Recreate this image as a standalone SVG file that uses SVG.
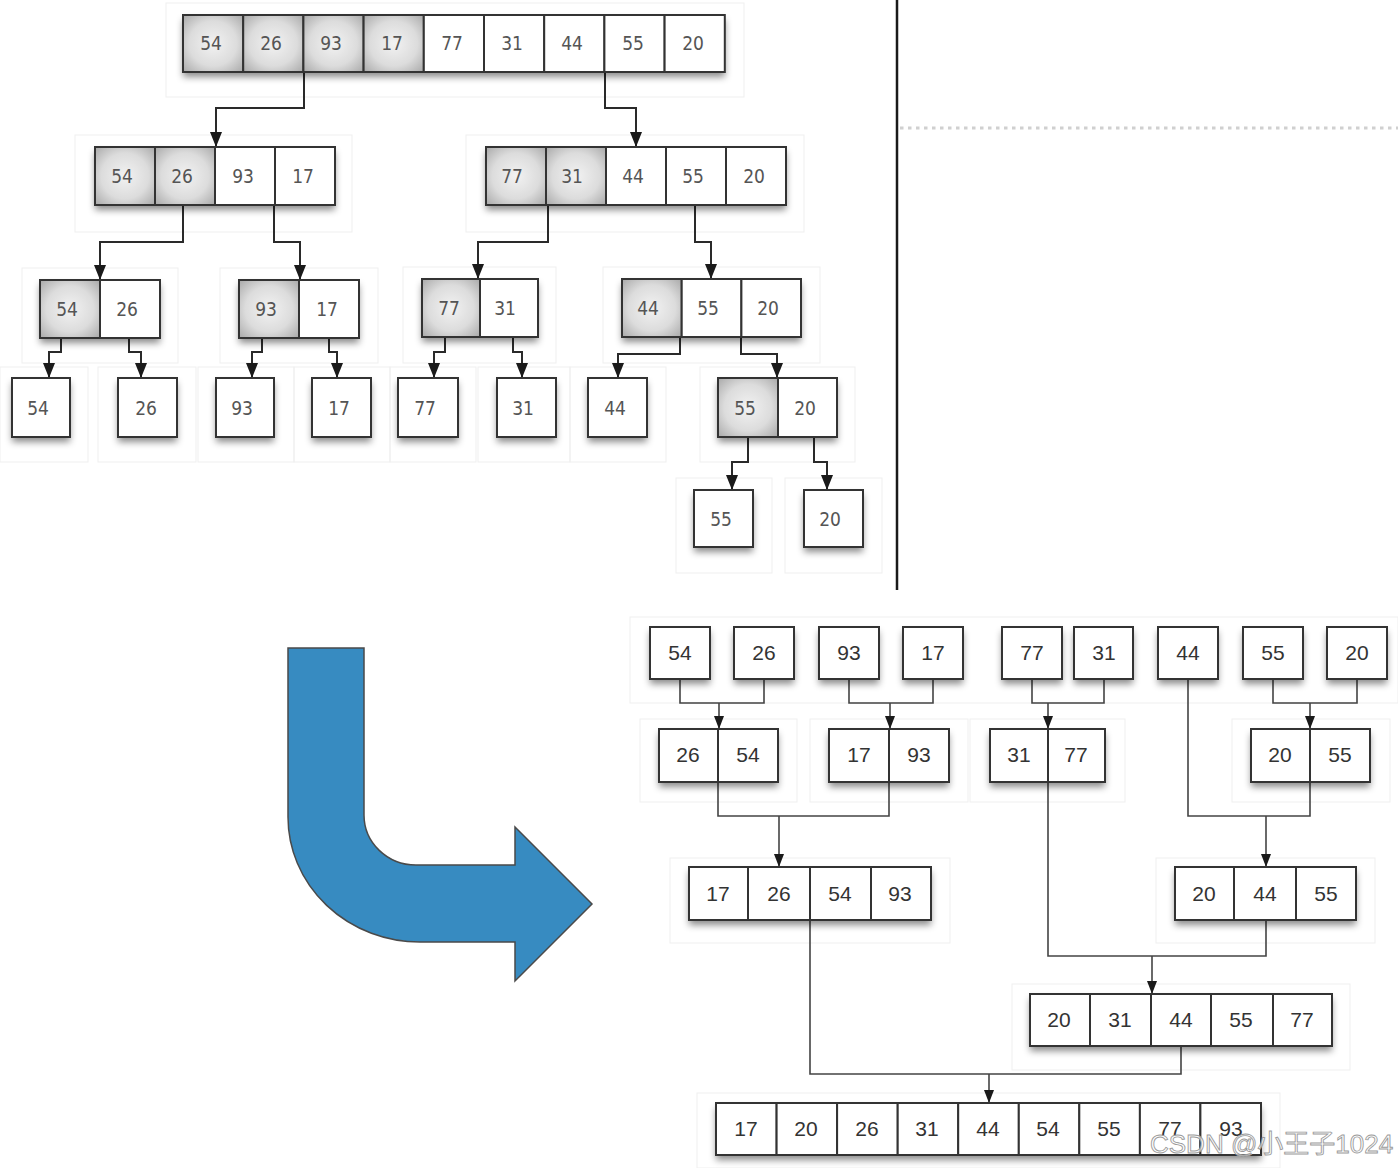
<svg xmlns="http://www.w3.org/2000/svg" width="1398" height="1168" viewBox="0 0 1398 1168">
<defs>
<radialGradient id="gr" cx="50%" cy="50%" r="72%">
<stop offset="0" stop-color="#f2f2f2"/>
<stop offset="0.55" stop-color="#dcdcdc"/>
<stop offset="1" stop-color="#a6a6a6"/>
</radialGradient>
<filter id="sh" x="-20%" y="-30%" width="140%" height="170%">
<feDropShadow dx="0" dy="5" stdDeviation="3.5" flood-color="#000" flood-opacity="0.45"/>
</filter>
<marker id="ah" markerUnits="userSpaceOnUse" markerWidth="15" markerHeight="12" viewBox="0 0 15 12" refX="15" refY="6" orient="auto"><path d="M0,0 L15,6 L0,12 z" fill="#1a1a1a"/></marker>
<marker id="ah2" markerUnits="userSpaceOnUse" markerWidth="13" markerHeight="10" viewBox="0 0 13 10" refX="13" refY="5" orient="auto"><path d="M0,0 L13,5 L0,10 z" fill="#1a1a1a"/></marker>
<style>
.fr{fill:none;stroke:#efefef;stroke-width:1}
.bg{fill:#fff;filter:url(#sh)}
.w{fill:#fff;stroke:#333;stroke-width:2}
.s{fill:url(#gr);stroke:#333;stroke-width:2}
.t{font-family:"DejaVu Sans Condensed","DejaVu Sans",sans-serif;font-stretch:condensed;font-size:19px;fill:#555;text-anchor:middle}
.b{font-family:"Liberation Sans",Arial,sans-serif;font-size:21px;fill:#333;text-anchor:middle}
.c1{fill:none;stroke:#2a2a2a;stroke-width:2;marker-end:url(#ah)}
.c2{fill:none;stroke:#444;stroke-width:1.6}
.c2a{fill:none;stroke:#444;stroke-width:1.6;marker-end:url(#ah2)}
</style>
</defs>
<rect width="1398" height="1168" fill="#fff"/>

<g id="frames">
<rect class="fr" x="166" y="3" width="578" height="94"/>
<rect class="fr" x="75" y="135" width="277" height="97"/>
<rect class="fr" x="466" y="135" width="338" height="97"/>
<rect class="fr" x="22" y="268" width="156" height="95"/>
<rect class="fr" x="220" y="268" width="158" height="95"/>
<rect class="fr" x="403" y="267" width="153" height="96"/>
<rect class="fr" x="603" y="267" width="217" height="96"/>
<rect class="fr" x="0" y="367" width="88" height="95"/>
<rect class="fr" x="98" y="367" width="98" height="95"/>
<rect class="fr" x="198" y="367" width="96" height="95"/>
<rect class="fr" x="294" y="367" width="96" height="95"/>
<rect class="fr" x="390" y="367" width="86" height="95"/>
<rect class="fr" x="478" y="367" width="92" height="95"/>
<rect class="fr" x="570" y="367" width="96" height="95"/>
<rect class="fr" x="700" y="367" width="155" height="95"/>
<rect class="fr" x="676" y="478" width="96" height="95"/>
<rect class="fr" x="785" y="478" width="97" height="95"/>
<rect class="fr" x="630" y="617" width="768" height="86"/>
<rect class="fr" x="640" y="719" width="157" height="83"/>
<rect class="fr" x="810" y="719" width="158" height="83"/>
<rect class="fr" x="970" y="719" width="155" height="83"/>
<rect class="fr" x="1232" y="719" width="158" height="83"/>
<rect class="fr" x="670" y="858" width="280" height="85"/>
<rect class="fr" x="1156" y="858" width="219" height="85"/>
<rect class="fr" x="1012" y="984" width="338" height="86"/>
<rect class="fr" x="697" y="1093" width="583" height="75"/>
</g>

<g id="divider">
<line x1="897" y1="0" x2="897" y2="590" stroke="#1a1a1a" stroke-width="2.5"/>
<line x1="900" y1="128" x2="1398" y2="128" stroke="#d0d0d0" stroke-width="3" stroke-dasharray="3.5 4.5"/>
</g>

<g id="connectors">
<path class="c1" d="M304,72 V108 H216 V147"/>
<path class="c1" d="M605,72 V108 H636 V147"/>
<path class="c1" d="M183,205 V242 H100 V280"/>
<path class="c1" d="M274,205 V242 H300 V280"/>
<path class="c1" d="M548,205 V242 H478 V279"/>
<path class="c1" d="M695,205 V242 H711 V279"/>
<path class="c1" d="M61,338 V352 H49 V378"/>
<path class="c1" d="M129,338 V352 H141 V378"/>
<path class="c1" d="M262,338 V352 H252 V378"/>
<path class="c1" d="M329,338 V352 H337 V378"/>
<path class="c1" d="M445,337 V352 H434 V378"/>
<path class="c1" d="M513,337 V352 H522 V378"/>
<path class="c1" d="M680,337 V354 H618 V378"/>
<path class="c1" d="M741,337 V354 H777 V378"/>
<path class="c1" d="M748,437 V462 H732 V490"/>
<path class="c1" d="M814,437 V462 H827 V490"/>

<path class="c2" d="M680,679 V703 H764 V679"/>
<path class="c2a" d="M719,703 V729"/>
<path class="c2" d="M849,679 V703 H933 V679"/>
<path class="c2a" d="M890,703 V729"/>
<path class="c2" d="M1032,679 V703 H1104 V679"/>
<path class="c2a" d="M1048,703 V729"/>
<path class="c2" d="M1273,679 V703 H1357 V679"/>
<path class="c2a" d="M1310,703 V729"/>
<path class="c2" d="M718,782 V816 H889 V782"/>
<path class="c2a" d="M779,816 V867"/>
<path class="c2" d="M1188,679 V816 H1310 V782"/>
<path class="c2a" d="M1266,816 V867"/>
<path class="c2" d="M1048,782 V956 H1266 V920"/>
<path class="c2a" d="M1152,956 V994"/>
<path class="c2" d="M810,920 V1074 H1181 V1046"/>
<path class="c2a" d="M989,1074 V1103"/>
</g>

<g id="n-l1">
<rect class="bg" x="183" y="15" width="542" height="57"/>
<rect class="s" x="183" y="15" width="60.2" height="57"/>
<rect class="s" x="243.2" y="15" width="60.2" height="57"/>
<rect class="s" x="303.4" y="15" width="60.2" height="57"/>
<rect class="s" x="363.6" y="15" width="60.2" height="57"/>
<rect class="w" x="423.8" y="15" width="60.2" height="57"/>
<rect class="w" x="484" y="15" width="60.2" height="57"/>
<rect class="w" x="544.2" y="15" width="60.2" height="57"/>
<rect class="w" x="604.4" y="15" width="60.2" height="57"/>
<rect class="w" x="664.6" y="15" width="60.2" height="57"/>
<text class="t" x="211" y="50">54</text><text class="t" x="271" y="50">26</text><text class="t" x="331" y="50">93</text><text class="t" x="392" y="50">17</text><text class="t" x="452" y="50">77</text><text class="t" x="512" y="50">31</text><text class="t" x="572" y="50">44</text><text class="t" x="633" y="50">55</text><text class="t" x="693" y="50">20</text>
</g>

<g id="n-l2a">
<rect class="bg" x="95" y="147" width="240" height="58"/>
<rect class="s" x="95" y="147" width="60" height="58"/>
<rect class="s" x="155" y="147" width="60" height="58"/>
<rect class="w" x="215" y="147" width="60" height="58"/>
<rect class="w" x="275" y="147" width="60" height="58"/>
<text class="t" x="122" y="183">54</text><text class="t" x="182" y="183">26</text><text class="t" x="243" y="183">93</text><text class="t" x="303" y="183">17</text>
</g>

<g id="n-l2b">
<rect class="bg" x="486" y="147" width="300" height="58"/>
<rect class="s" x="486" y="147" width="60" height="58"/>
<rect class="s" x="546" y="147" width="60" height="58"/>
<rect class="w" x="606" y="147" width="60" height="58"/>
<rect class="w" x="666" y="147" width="60" height="58"/>
<rect class="w" x="726" y="147" width="60" height="58"/>
<text class="t" x="512" y="183">77</text><text class="t" x="572" y="183">31</text><text class="t" x="633" y="183">44</text><text class="t" x="693" y="183">55</text><text class="t" x="754" y="183">20</text>
</g>

<g id="n-l3a">
<rect class="bg" x="40" y="280" width="120" height="58"/>
<rect class="s" x="40" y="280" width="60" height="58"/>
<rect class="w" x="100" y="280" width="60" height="58"/>
<text class="t" x="67" y="316">54</text><text class="t" x="127" y="316">26</text>
</g>
<g id="n-l3b">
<rect class="bg" x="239" y="280" width="120" height="58"/>
<rect class="s" x="239" y="280" width="60" height="58"/>
<rect class="w" x="299" y="280" width="60" height="58"/>
<text class="t" x="266" y="316">93</text><text class="t" x="327" y="316">17</text>
</g>
<g id="n-l3c">
<rect class="bg" x="422" y="279" width="116" height="58"/>
<rect class="s" x="422" y="279" width="58" height="58"/>
<rect class="w" x="480" y="279" width="58" height="58"/>
<text class="t" x="449" y="315">77</text><text class="t" x="505" y="315">31</text>
</g>
<g id="n-l3d">
<rect class="bg" x="622" y="279" width="179" height="58"/>
<rect class="s" x="622" y="279" width="59.7" height="58"/>
<rect class="w" x="681.7" y="279" width="59.7" height="58"/>
<rect class="w" x="741.4" y="279" width="59.6" height="58"/>
<text class="t" x="648" y="315">44</text><text class="t" x="708" y="315">55</text><text class="t" x="768" y="315">20</text>
</g>

<g id="n-l4-54"><rect class="bg" x="12" y="378" width="58" height="59"/><rect class="w" x="12" y="378" width="58" height="59"/><text class="t" x="38" y="415">54</text></g>
<g id="n-l4-26"><rect class="bg" x="118" y="378" width="59" height="59"/><rect class="w" x="118" y="378" width="59" height="59"/><text class="t" x="146" y="415">26</text></g>
<g id="n-l4-93"><rect class="bg" x="216" y="378" width="58" height="59"/><rect class="w" x="216" y="378" width="58" height="59"/><text class="t" x="242" y="415">93</text></g>
<g id="n-l4-17"><rect class="bg" x="312" y="378" width="59" height="59"/><rect class="w" x="312" y="378" width="59" height="59"/><text class="t" x="339" y="415">17</text></g>
<g id="n-l4-77"><rect class="bg" x="398" y="378" width="60" height="59"/><rect class="w" x="398" y="378" width="60" height="59"/><text class="t" x="425" y="415">77</text></g>
<g id="n-l4-31"><rect class="bg" x="497" y="378" width="59" height="59"/><rect class="w" x="497" y="378" width="59" height="59"/><text class="t" x="523" y="415">31</text></g>
<g id="n-l4-44"><rect class="bg" x="588" y="378" width="59" height="59"/><rect class="w" x="588" y="378" width="59" height="59"/><text class="t" x="615" y="415">44</text></g>
<g id="n-l4-5520">
<rect class="bg" x="718" y="378" width="119" height="59"/>
<rect class="s" x="718" y="378" width="60" height="59"/>
<rect class="w" x="778" y="378" width="59" height="59"/>
<text class="t" x="745" y="415">55</text><text class="t" x="805" y="415">20</text>
</g>
<g id="n-l5-55"><rect class="bg" x="694" y="490" width="59" height="57"/><rect class="w" x="694" y="490" width="59" height="57"/><text class="t" x="721" y="526">55</text></g>
<g id="n-l5-20"><rect class="bg" x="804" y="490" width="59" height="57"/><rect class="w" x="804" y="490" width="59" height="57"/><text class="t" x="830" y="526">20</text></g>

<g id="big-arrow">
<path d="M288,648 L364,648 L364,815 A52,50 0 0 0 416,865 L515,865 L515,827 L592,904 L515,981 L515,942 L420,942 A132,125 0 0 1 288,817 Z" fill="#378bc1" stroke="#4a4a4a" stroke-width="1.5" stroke-linejoin="miter"/>
</g>

<g id="m-a-54"><rect class="bg" x="650" y="627" width="60" height="52"/><rect class="w" x="650" y="627" width="60" height="52"/><text class="b" x="680" y="660">54</text></g>
<g id="m-a-26"><rect class="bg" x="734" y="627" width="60" height="52"/><rect class="w" x="734" y="627" width="60" height="52"/><text class="b" x="764" y="660">26</text></g>
<g id="m-a-93"><rect class="bg" x="819" y="627" width="60" height="52"/><rect class="w" x="819" y="627" width="60" height="52"/><text class="b" x="849" y="660">93</text></g>
<g id="m-a-17"><rect class="bg" x="903" y="627" width="60" height="52"/><rect class="w" x="903" y="627" width="60" height="52"/><text class="b" x="933" y="660">17</text></g>
<g id="m-a-77"><rect class="bg" x="1002" y="627" width="60" height="52"/><rect class="w" x="1002" y="627" width="60" height="52"/><text class="b" x="1032" y="660">77</text></g>
<g id="m-a-31"><rect class="bg" x="1074" y="627" width="59" height="52"/><rect class="w" x="1074" y="627" width="59" height="52"/><text class="b" x="1104" y="660">31</text></g>
<g id="m-a-44"><rect class="bg" x="1158" y="627" width="60" height="52"/><rect class="w" x="1158" y="627" width="60" height="52"/><text class="b" x="1188" y="660">44</text></g>
<g id="m-a-55"><rect class="bg" x="1243" y="627" width="60" height="52"/><rect class="w" x="1243" y="627" width="60" height="52"/><text class="b" x="1273" y="660">55</text></g>
<g id="m-a-20"><rect class="bg" x="1327" y="627" width="60" height="52"/><rect class="w" x="1327" y="627" width="60" height="52"/><text class="b" x="1357" y="660">20</text></g>

<g id="m-b-1">
<rect class="bg" x="659" y="729" width="119" height="53"/>
<rect class="w" x="659" y="729" width="59" height="53"/><rect class="w" x="718" y="729" width="60" height="53"/>
<text class="b" x="688" y="762">26</text><text class="b" x="748" y="762">54</text>
</g>
<g id="m-b-2">
<rect class="bg" x="829" y="729" width="120" height="53"/>
<rect class="w" x="829" y="729" width="60" height="53"/><rect class="w" x="889" y="729" width="60" height="53"/>
<text class="b" x="859" y="762">17</text><text class="b" x="919" y="762">93</text>
</g>
<g id="m-b-3">
<rect class="bg" x="990" y="729" width="115" height="53"/>
<rect class="w" x="990" y="729" width="58" height="53"/><rect class="w" x="1048" y="729" width="57" height="53"/>
<text class="b" x="1019" y="762">31</text><text class="b" x="1076" y="762">77</text>
</g>
<g id="m-b-4">
<rect class="bg" x="1251" y="729" width="119" height="53"/>
<rect class="w" x="1251" y="729" width="59" height="53"/><rect class="w" x="1310" y="729" width="60" height="53"/>
<text class="b" x="1280" y="762">20</text><text class="b" x="1340" y="762">55</text>
</g>

<g id="m-c-1">
<rect class="bg" x="689" y="867" width="242" height="53"/>
<rect class="w" x="689" y="867" width="59" height="53"/><rect class="w" x="748" y="867" width="62" height="53"/><rect class="w" x="810" y="867" width="61" height="53"/><rect class="w" x="871" y="867" width="60" height="53"/>
<text class="b" x="718" y="901">17</text><text class="b" x="779" y="901">26</text><text class="b" x="840" y="901">54</text><text class="b" x="900" y="901">93</text>
</g>
<g id="m-c-2">
<rect class="bg" x="1175" y="867" width="181" height="53"/>
<rect class="w" x="1175" y="867" width="59" height="53"/><rect class="w" x="1234" y="867" width="62" height="53"/><rect class="w" x="1296" y="867" width="60" height="53"/>
<text class="b" x="1204" y="901">20</text><text class="b" x="1265" y="901">44</text><text class="b" x="1326" y="901">55</text>
</g>

<g id="m-d">
<rect class="bg" x="1030" y="994" width="302" height="52"/>
<rect class="w" x="1030" y="994" width="60" height="52"/><rect class="w" x="1090" y="994" width="61" height="52"/><rect class="w" x="1151" y="994" width="60" height="52"/><rect class="w" x="1211" y="994" width="62" height="52"/><rect class="w" x="1273" y="994" width="59" height="52"/>
<text class="b" x="1059" y="1027">20</text><text class="b" x="1120" y="1027">31</text><text class="b" x="1181" y="1027">44</text><text class="b" x="1241" y="1027">55</text><text class="b" x="1302" y="1027">77</text>
</g>

<g id="m-e">
<rect class="bg" x="716" y="1103" width="545" height="52"/>
<rect class="w" x="716" y="1103" width="60.6" height="52"/><rect class="w" x="776.6" y="1103" width="60.5" height="52"/><rect class="w" x="837.1" y="1103" width="60.6" height="52"/><rect class="w" x="897.7" y="1103" width="60.5" height="52"/><rect class="w" x="958.2" y="1103" width="60.6" height="52"/><rect class="w" x="1018.8" y="1103" width="60.5" height="52"/><rect class="w" x="1079.3" y="1103" width="60.6" height="52"/><rect class="w" x="1139.9" y="1103" width="60.5" height="52"/><rect class="w" x="1200.4" y="1103" width="60.6" height="52"/>
<text class="b" x="746" y="1136">17</text><text class="b" x="806" y="1136">20</text><text class="b" x="867" y="1136">26</text><text class="b" x="927" y="1136">31</text><text class="b" x="988" y="1136">44</text><text class="b" x="1048" y="1136">54</text><text class="b" x="1109" y="1136">55</text><text class="b" x="1170" y="1136">77</text><text class="b" x="1231" y="1136">93</text>
</g>

<text x="1150" y="1153" font-family="'Liberation Sans','Noto Sans CJK SC',sans-serif" font-size="26" fill="#ffffff" fill-opacity="0.7" stroke="#9a9a9a" stroke-width="0.9">CSDN @小王子1024</text>
</svg>
